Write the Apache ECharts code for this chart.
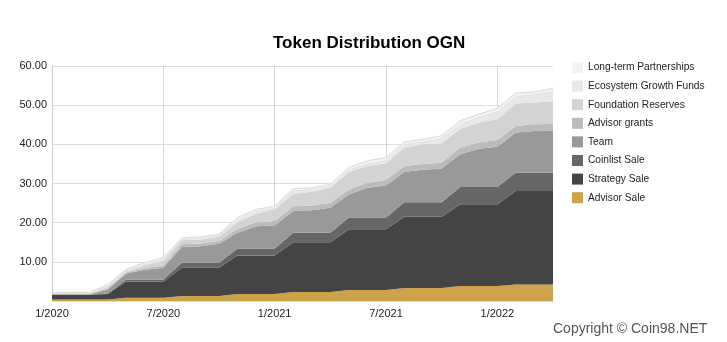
<!DOCTYPE html>
<html>
<head>
<meta charset="utf-8">
<script src="https://cdn.jsdelivr.net/npm/echarts@6/dist/echarts.min.js"></script>
<style>
html,body{margin:0;padding:0;background:#fff;}
#chart{width:727px;height:342px;}
</style>
</head>
<body>
<div id="chart"></div>
<script>
var months = ['1/2020','2/2020','3/2020','4/2020','5/2020','6/2020','7/2020','8/2020','9/2020','10/2020','11/2020','12/2020',
  '1/2021','2/2021','3/2021','4/2021','5/2021','6/2021','7/2021','8/2021','9/2021','10/2021','11/2021','12/2021',
  '1/2022','2/2022','3/2022','4/2022'];

var advisorSale = [0.4,0.4,0.4,0.4,0.85,0.85,0.85,1.3,1.3,1.3,1.8,1.8,1.8,2.3,2.3,2.3,2.8,2.8,2.8,3.3,3.3,3.3,3.8,3.8,3.8,4.2,4.2,4.2];
var strategySale = [1.2,1.2,1.2,1.4,4.15,4.15,4.15,7.2,7.2,7.2,9.8,9.8,9.8,12.7,12.7,12.7,15.5,15.5,15.5,18.2,18.2,18.2,20.9,20.9,20.9,23.9,23.9,23.9];
var coinlistSale = [0,0,0,0.1,0.5,0.5,0.5,1.25,1.25,1.25,1.8,1.8,1.8,2.4,2.4,2.4,3.0,3.0,3.0,3.7,3.7,3.7,4.4,4.4,4.4,4.7,4.7,4.7];
var team = [0.1,0.1,0.1,1.0,1.5,2.5,3.0,4.05,4.25,4.85,4.0,5.7,5.9,5.6,5.8,6.4,5.9,7.6,8.2,7.8,8.3,8.6,8.4,9.8,10.3,10.2,10.6,10.7];
var advisorGrants = [0.1,0.1,0.1,0.3,0.3,0.4,0.5,0.7,0.7,0.7,1.0,1.0,1.1,1.2,1.2,1.2,1.3,1.3,1.4,1.5,1.5,1.5,1.6,1.6,1.7,1.7,1.7,1.7];
var foundationReserves = [0.1,0.1,0.1,0.4,0.3,0.7,1.3,1.0,1.0,1.1,1.8,2.2,3.0,3.1,3.5,3.9,4.4,4.3,4.3,4.7,5.0,5.0,4.8,5.1,5.3,5.7,5.6,5.8];
var ecosystemGrowth = [0.1,0.1,0.1,0.3,0.2,0.3,0.4,0.3,0.3,0.3,0.6,0.6,0.4,0.9,0.6,0.4,0.6,0.6,0.7,0.8,0.7,1.2,1.3,1.4,2.0,1.9,2.0,2.5];
var longTerm = [0.15,0.15,0.15,0.3,0.3,0.4,0.4,0.3,0.4,0.3,0.5,0.5,0.4,0.5,0.4,0.5,0.6,0.7,0.7,0.6,0.6,0.7,0.8,0.7,0.8,0.8,0.7,0.8];

var seriesNames = ['Advisor Sale','Strategy Sale','Coinlist Sale','Team','Advisor grants','Foundation Reserves','Ecosystem Growth Funds','Long-term Partnerships'];
var seriesData = [advisorSale, strategySale, coinlistSale, team, advisorGrants, foundationReserves, ecosystemGrowth, longTerm];
var colors = ['#cca349','#444444','#666666','#999999','#bbbbbb','#d3d3d3','#e8e8e8','#f3f3f3'];
var lineColors = ['#cca349','#444444','#666666','#999999','#bbbbbb','#d3d3d3','#dadada','#d8d8d8'];

var chart = echarts.init(document.getElementById('chart'), null, {renderer:'canvas'});

var series = seriesNames.map(function(n, k){
  return {
    name: n,
    type: 'line',
    stack: 'total',
    data: seriesData[k],
    symbol: 'none',
    smooth: false,
    itemStyle: {color: colors[k]},
    lineStyle: {width: k >= 6 ? 1 : 0, color: lineColors[k]},
    areaStyle: {color: colors[k], opacity: 1},
    z: 2 + k,
    silent: true
  };
});

chart.setOption({
  animation: false,
  backgroundColor: '#ffffff',
  color: colors,
  grid: {left: 52, right: 174, top: 66, bottom: 41, containLabel: false},
  legend: {
    orient: 'vertical',
    left: 567,
    top: 57,
    itemWidth: 11,
    itemHeight: 11,
    itemGap: 7.6,
    icon: 'rect',
    data: seriesNames.slice().reverse(),
    textStyle: {fontFamily: 'Liberation Sans, Arial, sans-serif', fontSize: 10.2, color: '#222', lineHeight: 11},
    selectedMode: false
  },
  xAxis: {
    type: 'category',
    data: months,
    boundaryGap: false,
    axisLine: {show: false},
    axisTick: {show: false},
    axisLabel: {
      interval: function(i){ return i % 6 === 0; },
      fontFamily: 'Liberation Sans, Arial, sans-serif',
      fontSize: 11,
      color: '#222',
      margin: 7
    },
    splitLine: {
      show: true,
      interval: function(i){ return i % 6 === 0; },
      lineStyle: {color: '#d6d6d6', width: 1}
    }
  },
  yAxis: {
    type: 'value',
    min: 0,
    max: 60,
    interval: 10,
    axisLine: {show: true, lineStyle: {color: '#cccccc', width: 1}},
    axisTick: {show: false},
    axisLabel: {
      formatter: function(v){ return v === 0 ? '' : v.toFixed(2); },
      fontFamily: 'Liberation Sans, Arial, sans-serif',
      fontSize: 11,
      color: '#222',
      margin: 5
    },
    splitLine: {lineStyle: {color: '#dddddd', width: 1}}
  },
  graphic: [
    {type: 'text', left: 273, top: 35, style: {text: 'Token Distribution OGN', fill: '#000', font: 'bold 17px "Liberation Sans", Arial, sans-serif'}},
    {type: 'text', left: 553, top: 322, style: {text: 'Copyright © Coin98.NET', fill: '#555', font: '14px "Liberation Sans", Arial, sans-serif'}}
  ],
  series: series
});
</script>
</body>
</html>
